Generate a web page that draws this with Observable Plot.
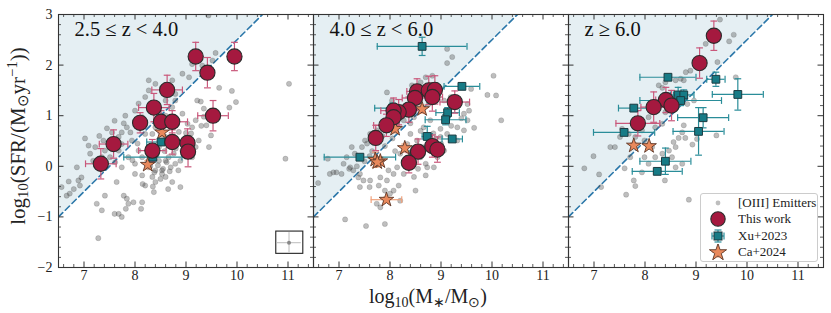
<!DOCTYPE html>
<html><head><meta charset="utf-8">
<script src="https://cdn.jsdelivr.net/npm/d3@7"></script>
<script src="https://cdn.jsdelivr.net/npm/@observablehq/plot@0.6"></script>
<style>
body{margin:0;background:#fff;}
#wrap{position:relative;width:831px;height:313px;font-family:"Liberation Serif",serif;color:#222;}
#wrap sub{font-size:70%;vertical-align:-0.25em;line-height:0}
#wrap sup{font-size:70%;vertical-align:0.5em;line-height:0}
.lab{position:absolute;white-space:nowrap;line-height:1;}
#legend{position:absolute;left:700px;top:193px;width:116px;height:67px;border:1px solid #ccc;border-radius:3px;background:rgba(255,255,255,0.85);font-size:13px;}
#legend .row{position:absolute;left:0;height:16px;display:flex;align-items:center;}
#legend svg{width:30px;height:16px;}
</style></head>
<body><div id="wrap"></div>
<script>
const panels = ["p1","p2","p3"];
const panelLabels = ["2.5 ≤ z < 4.0", "4.0 ≤ z < 6.0", "z ≥ 6.0"];
const xTicks = [7, 8, 9, 10, 11];
const yTicks = [-2, -1, 0, 1, 2, 3];
const cutX = [6.5, 11.5];
const cutY = [-1, 4];

// [OIII] emitters
const emitP1X = [9.44,9.58,11.02,9.65,9.9,9.98,9.85,9.22,9.29,9.35,9.35,9.49,9.4,9.19,9.0,9.12,10.95,8.2,8.27,8.4,8.0,8.07,7.81,7.84,7.91,7.74,7.68,7.55,7.38,7.41,7.22,7.09,7.12,7.18,6.86,6.89,6.92,6.72,6.66,6.56,6.95,7.41,7.25,7.35,7.6,7.68,7.74,7.78,7.84,7.87,7.82,7.97,8.14,8.12,7.28,7.64,8.0,8.2,8.37,8.4,8.6,8.73,8.53,8.7,8.79,8.85,8.4,8.27,8.47,8.6,8.66,8.14,8.07,7.87,8.34,8.14,8.0,8.76,8.89,8.93,9.06,9.12,9.25,9.45,9.19,8.47,8.6,8.86,9.03,8.93,8.73,8.79,8.6,8.47,8.6,8.4,8.34,8.2,7.94,7.74,7.68,7.51,7.35,7.61,7.74,8.89,8.53,9.06,8.93,9.12,9.32,9.52,8.73,8.79,8.53,8.27,8.14,
  8.45,8.55,8.62,8.38,8.30,8.50,8.68,8.42,8.58,8.25,7.95,8.05,7.78,7.60,7.45,7.30,7.02,6.80,6.70,8.15,8.35,8.65,8.80,9.10,9.30];
const emitP1Y = [2.98,2.24,1.63,1.55,1.49,1.27,1.16,1.3,1.28,1.14,0.98,0.61,0.81,0.91,0.66,0.77,0.15,1.37,1.7,1.63,1.1,1.24,1.0,0.77,0.67,0.67,0.58,0.67,0.51,0.31,0.38,0.41,0.25,0.11,-0.02,-0.28,-0.38,-0.54,-0.58,-0.41,-0.22,-0.58,-0.74,-0.87,-0.94,-0.94,-1.0,-0.58,-0.64,-0.74,-0.84,-0.71,-0.71,-0.84,-1.42,-0.31,-0.15,-0.38,-0.51,-0.31,-0.21,-0.31,-0.08,-0.02,0.05,-0.08,-0.08,-0.02,0.11,0.11,0.18,0.18,0.31,0.18,-0.21,-0.18,0.05,0.25,0.11,0.31,0.38,0.18,0.51,0.38,0.38,0.38,0.58,0.68,0.84,1.04,1.17,1.3,1.3,1.04,1.0,0.77,0.64,0.64,0.51,0.44,0.31,0.18,0.18,0.08,-0.02,-0.41,-0.15,1.76,1.83,2.02,1.99,2.09,1.7,1.43,1.56,1.5,0.97,
  0.02,-0.05,0.08,-0.12,0.00,-0.25,-0.10,0.22,0.30,0.10,0.12,0.45,0.85,0.90,0.75,0.60,0.55,-0.45,-0.30,-0.35,-0.40,-0.45,0.35,0.65,0.80];
const emitP2X = [9.12,9.22,9.12,8.83,8.7,8.6,8.43,10.03,9.91,10.08,10.18,9.65,9.59,9.52,9.45,9.52,9.45,9.32,9.32,9.12,8.99,9.06,8.93,8.73,8.7,8.5,8.47,8.27,8.34,8.14,8.07,7.97,7.94,7.81,7.61,7.6,7.78,7.74,7.81,7.9,8.0,8.07,8.17,8.2,7.9,7.53,7.12,7.38,7.41,7.28,7.22,7.09,6.95,6.89,6.82,6.59,6.78,7.15,7.25,7.45,7.51,7.61,7.74,7.94,8.04,8.14,8.4,8.53,8.34,8.2,8.6,8.66,8.86,8.99,9.06,9.19,8.76,8.47,8.66,8.79,8.27,7.41,7.48,7.05,7.31,
  7.55,7.65,7.70,7.85,7.60,7.50,8.10,8.30,8.45,8.55,8.70,8.90,9.00,9.20,9.40,9.55,8.85,8.60,8.40,8.05,7.90,7.35,7.20];
const emitP2Y = [2.32,2.16,2.04,1.79,1.76,1.66,1.6,1.79,1.41,1.4,0.91,0.76,1.53,1.23,1.04,0.91,0.71,0.77,0.51,0.64,0.58,0.31,0.18,-0.02,-0.18,-0.48,-0.21,-0.15,-0.02,-0.02,-0.15,-0.08,-0.28,-0.22,-0.28,-0.41,-0.38,-0.74,-0.81,-0.48,-0.54,-0.48,-0.38,-0.68,-1.14,-1.18,-1.05,-0.22,-0.15,-0.08,-0.02,0.05,-0.12,-0.12,-0.15,-0.33,0.15,0.18,0.38,0.38,0.51,0.64,0.71,1.46,1.3,0.91,0.64,0.51,0.44,0.25,0.18,0.38,-0.02,0.74,1.3,1.37,1.23,0.97,0.77,0.91,0.91,-0.41,-0.28,-0.15,0.25,
  0.45,0.30,0.50,0.60,0.20,0.10,0.30,0.05,0.10,-0.05,0.05,0.55,0.45,0.80,0.95,1.10,0.65,0.70,0.85,0.55,0.40,0.00,-0.05];
const emitP3X = [9.47,9.74,9.65,9.19,9.42,8.89,8.8,8.7,8.6,8.4,8.34,8.27,8.76,9.78,9.4,8.96,8.83,8.4,8.34,8.2,8.07,7.94,7.81,7.68,7.51,7.32,7.41,7.55,6.99,6.81,7.1,7.14,7.6,7.78,7.81,7.63,7.94,8.39,8.86,8.76,8.73,8.66,8.79,8.93,8.6,8.47,8.53,8.73,8.6,8.34,8.2,8.07,7.99,8.14,7.99,7.71,8.56,9.02];
const emitP3Y = [2.9,2.6,2.47,2.42,2.06,1.89,1.86,1.73,1.7,1.66,1.55,1.6,1.7,1.76,0.61,1.3,1.23,1.07,0.84,0.77,0.97,0.71,0.58,0.64,0.58,0.38,0.38,0.74,0.2,-0.04,-0.16,-0.41,-0.04,-0.28,-0.39,-0.56,-0.12,-0.28,-0.66,0.81,0.67,0.56,0.56,0.43,0.38,0.31,0.18,0.05,-0.02,0.25,0.18,0.05,0.18,0.38,0.51,0.18,0.48,0.54];

// This work
const workPanel = ["p1","p1","p1","p1","p1","p1","p1","p1","p1","p1","p1","p1","p1","p1","p1",
  "p2","p2","p2","p2","p2","p2","p2","p2","p2","p2","p2","p2","p2","p2","p2","p2",
  "p3","p3","p3","p3","p3","p3"];
const workX = [9.19,9.95,9.42,8.63,8.37,9.53,8.10,8.51,8.73,7.58,8.73,9.03,9.04,8.34,7.33,
  8.53,8.76,8.88,8.83,8.49,9.27,8.37,8.17,8.07,8.07,7.93,7.72,8.55,8.83,8.93,8.37,
  9.35,9.07,8.41,8.17,8.52,7.86];
const workY = [2.17,2.17,1.85,1.51,1.16,1.00,0.86,0.88,0.88,0.44,0.48,0.46,0.29,0.31,0.05,
  1.48,1.50,1.51,1.37,1.35,1.27,1.12,1.07,1.10,0.97,0.81,0.56,0.29,0.40,0.33,0.07,
  2.58,2.04,1.31,1.17,1.20,0.85];
const workXerr = [0,0,0,0.30,0.30,0.30,0,0,0.30,0.28,0,0,0,0.27,0.30,
  0.2,0,0,0.2,0.25,0.29,0.25,0,0.25,0,0.25,0,0,0,0,0,
  0,0,0.2,0.25,0,0.43];
const workYerr = [0.28,0.28,0.30,0.29,0.28,0.30,0.20,0.22,0.22,0.28,0.24,0.28,0.30,0.22,0.30,
  0.25,0.28,0.28,0.28,0.25,0.22,0.25,0.25,0.25,0.22,0.22,0.25,0.25,0.22,0.25,0.20,
  0.29,0.30,0.25,0.30,0.30,0.25];

// Xu+2023
const xuPanel = ["p1","p1","p2","p2","p2","p2","p2","p2","p2","p2","p2",
  "p3","p3","p3","p3","p3","p3","p3","p3","p3","p3","p3","p3"];
const xuX = [8.51,8.35, 8.63,9.41,9.13,9.09,8.73,9.22,7.41,8.05,8.47,
  8.45,9.39,9.82,8.65,8.76,8.70,7.78,9.14,9.05,7.59,8.40,8.24];
const xuY = [0.48,0.18, 2.37,1.58,1.06,0.92,0.59,0.54,0.18,1.15,0.25,
  1.76,1.72,1.42,1.41,1.41,1.30,1.15,0.96,0.69,0.67,0.10,-0.10];
const xuXerr = [0.28,0.57, 0.88,0.35,0.23,0.40,0.10,0.20,0.70,0.35,0.10,
  0.55,0.18,0.50,0.15,0.20,0.80,0.30,0.50,0.50,0.60,0.50,0.49];
const xuYerr = [0.05,0.10, 0.18,0.05,0.10,0.10,0.20,0.05,0.05,0.10,0.10,
  0.05,0.14,0.31,0.15,0.10,0.10,0.05,0.20,0.47,0.05,0.26,0.05];

// Ca+2024
const caPanel = ["p1","p1","p2","p2","p2","p2","p2","p2","p2","p3","p3"];
const caX = [8.53,8.25, 8.63,8.29,7.71,7.81,7.93,7.75,8.10, 7.78,8.08];
const caY = [0.67,0.03, 1.13,0.36,0.13,0.10,-0.66,0.08,0.74, 0.41,0.40];
const caXerr = [0,0, 0,0,0,0,0.30,0,0, 0,0];
const caYerr = [0.08,0.08, 0.08,0.08,0.15,0.08,0.05,0.08,0.08, 0.05,0.05];

// typical uncertainty inset (panel 1)
const insetBoxX = [10.77, 11.30];
const insetBoxY = [-1.29, -1.73];
const insetPt = {x: 11.02, y: -1.51, xerr: 0.24, yerr: 0.20};

const mk = (P, X, Y, XE, YE) => X.map((x, i) => ({panel: typeof P === "string" ? P : P[i], x, y: Y[i], xe: XE ? XE[i] : 0, ye: YE ? YE[i] : 0}));
const emit = [...mk("p1", emitP1X, emitP1Y), ...mk("p2", emitP2X, emitP2Y), ...mk("p3", emitP3X, emitP3Y)];
const work = mk(workPanel, workX, workY, workXerr, workYerr);
const xu = mk(xuPanel, xuX, xuY, xuXerr, xuYerr);
const ca = mk(caPanel, caX, caY, caXerr, caYerr);
const cut = cutX.map((x, i) => ({x, y: cutY[i], top: 3}));
const inset = [{panel: "p1", x1: insetBoxX[0], x2: insetBoxX[1], y1: insetBoxY[0], y2: insetBoxY[1]}];
const insetErr = [{panel: "p1", ...insetPt}];
const labels = panels.map((p, i) => ({panel: p, text: panelLabels[i]}));

const capH = {draw(ctx, size) { const w = Math.sqrt(size / Math.PI); ctx.moveTo(-w, 0); ctx.lineTo(w, 0); }};
const capV = {draw(ctx, size) { const w = Math.sqrt(size / Math.PI); ctx.moveTo(0, -w); ctx.lineTo(0, w); }};

function errMarks(data, color, w = 1.2) {
  const hx = data.filter(d => d.xe > 0), vy = data.filter(d => d.ye > 0);
  return [
    Plot.ruleY(hx, {fx: "panel", y: "y", x1: d => d.x - d.xe, x2: d => d.x + d.xe, stroke: color, strokeWidth: w, clip: true}),
    Plot.ruleX(vy, {fx: "panel", x: "x", y1: d => d.y - d.ye, y2: d => d.y + d.ye, stroke: color, strokeWidth: w, clip: true}),
    Plot.dot(hx, {fx: "panel", x: d => d.x - d.xe, y: "y", symbol: capV, r: 3.4, stroke: color, strokeWidth: w, fill: "none"}),
    Plot.dot(hx, {fx: "panel", x: d => d.x + d.xe, y: "y", symbol: capV, r: 3.4, stroke: color, strokeWidth: w, fill: "none"}),
    Plot.dot(vy, {fx: "panel", x: "x", y: d => d.y - d.ye, symbol: capH, r: 3.4, stroke: color, strokeWidth: w, fill: "none"}),
    Plot.dot(vy, {fx: "panel", x: "x", y: d => d.y + d.ye, symbol: capH, r: 3.4, stroke: color, strokeWidth: w, fill: "none"})
  ];
}

const PW = 255, PH = 253;
const xMinor = d3.range(6.6, 11.5, 0.2).filter(v => Math.abs(v - Math.round(v)) > 0.01);
const yMinor = d3.range(-1.8, 3, 0.2).filter(v => Math.abs(v - Math.round(v)) > 0.01);
const tk = "#333";
const fmt = d => String(d).replace("-", "−");

const chart = Plot.plot({
  width: 831, height: 313,
  marginLeft: 58, marginRight: 8, marginTop: 14, marginBottom: 46,
  style: {fontFamily: "Liberation Serif, serif", fontSize: "14px", color: "#222", background: "#fff"},
  fx: {domain: panels, axis: null, padding: 0, label: null},
  x: {domain: [6.5, 11.5], label: null},
  y: {domain: [-2, 3], label: null},
  marks: [
    Plot.areaY(cut, {x: "x", y1: "y", y2: "top", fill: "#e5eff3", clip: true}),
    Plot.line(cut, {x: "x", y: "y", stroke: "#2b77a9", strokeWidth: 1.6, strokeDasharray: "6,3.5", clip: true}),
    Plot.dot(emit, {fx: "panel", x: "x", y: "y", r: 2.6, fill: "#4a4a4a", fillOpacity: 0.36, stroke: "#444", strokeOpacity: 0.3, strokeWidth: 0.6, clip: true}),
    Plot.rect(inset, {fx: "panel", x1: "x1", x2: "x2", y1: "y1", y2: "y2", fill: "#fff", stroke: "#222", strokeWidth: 1.1}),
    Plot.ruleY(insetErr, {fx: "panel", y: "y", x1: d => d.x - d.xerr, x2: d => d.x + d.xerr, stroke: "#bbb", strokeWidth: 1}),
    Plot.ruleX(insetErr, {fx: "panel", x: "x", y1: d => d.y - d.yerr, y2: d => d.y + d.yerr, stroke: "#bbb", strokeWidth: 1}),
    Plot.dot(insetErr, {fx: "panel", x: "x", y: "y", r: 2, fill: "#888"}),
    ...errMarks(ca, "#f0a27c"),
    ...errMarks(xu, "#2a8d99"),
    ...errMarks(work, "#c9587b"),
    Plot.dot(ca, {fx: "panel", x: "x", y: "y", symbol: "star", r: 4.6, fill: "#e9895c", stroke: "#5b3626", strokeWidth: 0.9}),
    Plot.dot(xu, {fx: "panel", x: "x", y: "y", symbol: "square", r: 4.4, fill: "#177b86", stroke: "#1b3b40", strokeWidth: 1}),
    Plot.dot(work, {fx: "panel", x: "x", y: "y", r: 7.6, fill: "#a5193f", stroke: "#2b2b2b", strokeWidth: 1.1}),
    Plot.text(labels, {fx: "panel", text: "text", frameAnchor: "top-left", dx: 16, dy: 7, lineAnchor: "top", fontSize: 20.5, fill: "#111"}),
    // inward ticks on all four sides
    Plot.tickY(yTicks, {y: d => d, insetRight: PW - 5.5, stroke: tk}),
    Plot.tickY(yTicks, {y: d => d, insetLeft: PW - 5.5, stroke: tk}),
    Plot.tickY(yMinor, {y: d => d, insetRight: PW - 3, stroke: tk, strokeWidth: 0.8}),
    Plot.tickY(yMinor, {y: d => d, insetLeft: PW - 3, stroke: tk, strokeWidth: 0.8}),
    Plot.tickX(xTicks, {x: d => d, insetTop: PH - 5.5, stroke: tk}),
    Plot.tickX(xTicks, {x: d => d, insetBottom: PH - 5.5, stroke: tk}),
    Plot.tickX(xMinor, {x: d => d, insetTop: PH - 3, stroke: tk, strokeWidth: 0.8}),
    Plot.tickX(xMinor, {x: d => d, insetBottom: PH - 3, stroke: tk, strokeWidth: 0.8}),
    Plot.frame({stroke: "#333", strokeWidth: 1.1}),
    Plot.axisX({ticks: xTicks, tickFormat: fmt, tickSize: 0, tickPadding: 3, label: null, fontSize: 14}),
    Plot.axisY({ticks: yTicks, tickFormat: fmt, tickSize: 0, tickPadding: 6, label: null, fontSize: 14})
  ]
});

const wrap = document.getElementById("wrap");
chart.style.position = "absolute"; chart.style.left = "0"; chart.style.top = "0";
wrap.appendChild(chart);

const yl = document.createElement("div");
yl.className = "lab";
yl.style.fontSize = "21px";
yl.innerHTML = "log<sub>10</sub>(SFR/(M<sub>⊙</sub>yr<sup>−1</sup>))";
yl.style.left = "18px"; yl.style.top = "136px";
yl.style.transform = "translate(-50%,-50%) rotate(-90deg)";
wrap.appendChild(yl);

const xl = document.createElement("div");
xl.className = "lab";
xl.style.fontSize = "20px";
xl.innerHTML = "log<sub>10</sub>(M<sub>∗</sub>/M<sub>⊙</sub>)";
xl.style.left = "428px"; xl.style.top = "296px";
xl.style.transform = "translate(-50%,-50%)";
wrap.appendChild(xl);

// legend
const legendItems = [
  {label: "[OIII] Emitters", svg: '<circle cx="17" cy="8" r="2.4" fill="#4a4a4a" fill-opacity="0.36"/>'},
  {label: "This work", svg: '<circle cx="17" cy="8" r="7.2" fill="#a5193f" stroke="#2b2b2b" stroke-width="1.1"/>'},
  {label: "Xu+2023", svg: '<g stroke="#2a8d99" stroke-width="1.2"><line x1="11" y1="8" x2="23" y2="8"/><line x1="17" y1="2" x2="17" y2="14"/><line x1="11" y1="4.5" x2="11" y2="11.5"/><line x1="23" y1="4.5" x2="23" y2="11.5"/><line x1="13.5" y1="2" x2="20.5" y2="2"/><line x1="13.5" y1="14" x2="20.5" y2="14"/></g><rect x="13" y="4" width="8" height="8" fill="#177b86" stroke="#1b3b40"/>'},
  {label: "Ca+2024", svg: '<g stroke="#f0a27c" stroke-width="1.2"><line x1="11" y1="8" x2="23" y2="8"/><line x1="17" y1="2" x2="17" y2="14"/></g><path transform="translate(17,8.5)" d="' + d3.symbol(d3.symbolStar, Math.PI * 5.4 * 5.4)() + '" fill="#e9895c" stroke="#5b3626" stroke-width="0.9"/>'}
];
const lg = document.createElement("div");
lg.id = "legend";
legendItems.forEach((it, i) => {
  const r = document.createElement("div");
  r.className = "row";
  r.style.top = (1 + i * 16.3) + "px";
  r.innerHTML = '<svg viewBox="0 0 30 16">' + it.svg + '</svg><span style="margin-left:7px">' + it.label + '</span>';
  lg.appendChild(r);
});
wrap.appendChild(lg);
</script>
</body></html>
